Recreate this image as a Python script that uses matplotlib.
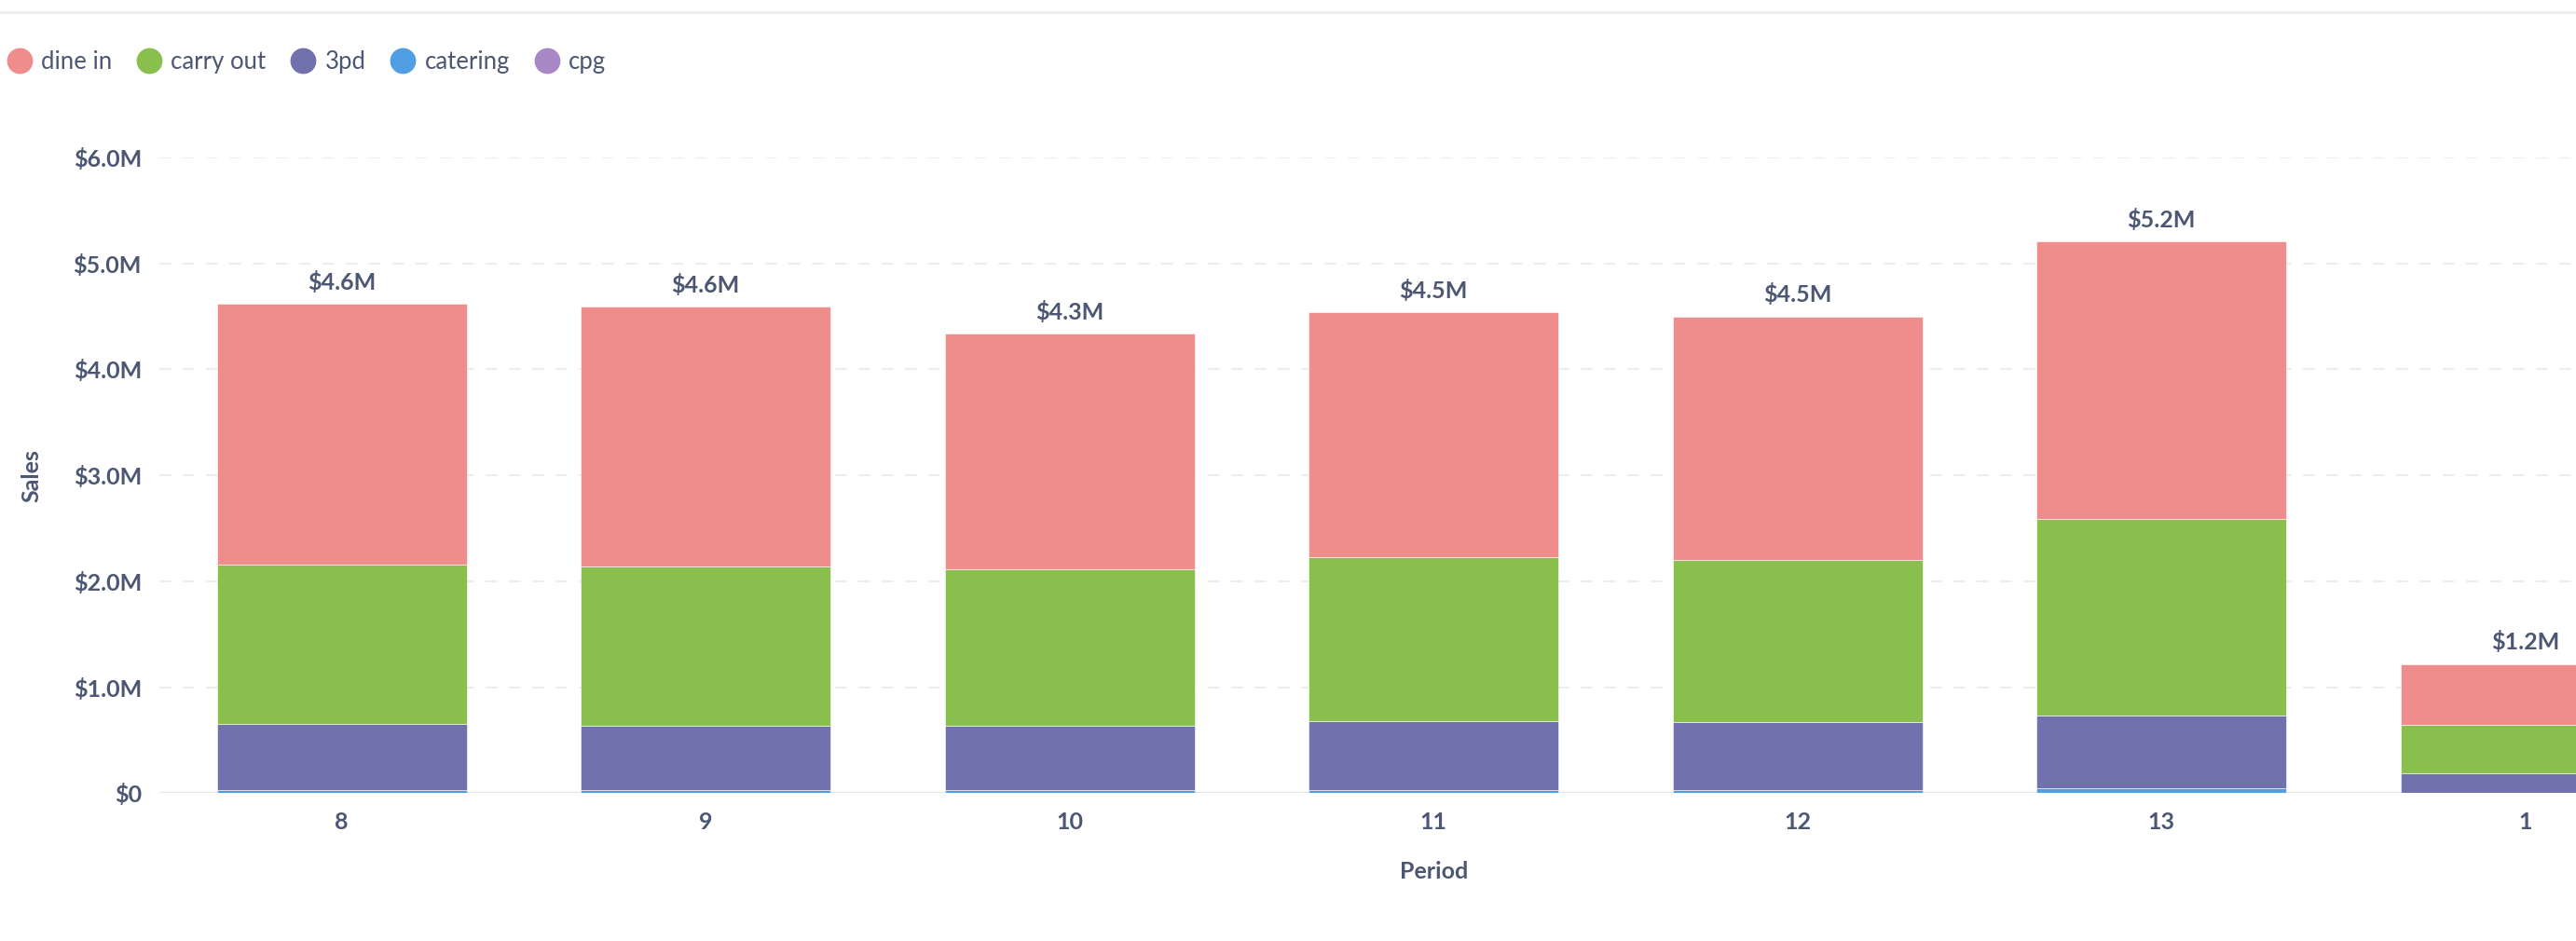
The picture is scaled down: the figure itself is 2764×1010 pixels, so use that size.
import matplotlib
matplotlib.use("Agg")
import matplotlib.pyplot as plt
from matplotlib.lines import Line2D
from matplotlib.ticker import FuncFormatter
import numpy as np

plt.rcParams['font.family'] = ['Lato', 'DejaVu Sans']

# data (values in $M)
periods = ['8', '9', '10', '11', '12', '13', '1']
series_names = ['dine in', 'carry out', '3pd', 'catering', 'cpg']
dine_in = [2.465, 2.45, 2.23, 2.31, 2.30, 2.62, 0.575]
carry_out = [1.505, 1.50, 1.47, 1.55, 1.53, 1.86, 0.46]
three_pd = [0.62, 0.61, 0.61, 0.65, 0.64, 0.68, 0.186]
catering = [0.03, 0.03, 0.03, 0.03, 0.03, 0.05, 0.0]
cpg = [0.0, 0.0, 0.0, 0.0, 0.0, 0.0, 0.0]
colors = ['#EF8C8C', '#88BF4D', '#7172AD', '#509EE3', '#A989C5']
text_color = '#4C5773'

fig = plt.figure(figsize=(27.64, 10.10), dpi=100)
ax = fig.add_axes([0.062, 0.157, 0.989, 0.6757])

x = np.arange(len(periods))
# stack from the bottom: cpg, catering, 3pd, carry out, dine in
stack = [(cpg, colors[4]), (catering, colors[3]), (three_pd, colors[2]),
         (carry_out, colors[1]), (dine_in, colors[0])]
bottom = np.zeros(len(periods))
for vals, c in stack:
    v = np.array(vals) * 1e6
    ax.bar(x, v, width=0.686, bottom=bottom, color=c, edgecolor='white',
           linewidth=0.4, zorder=3)
    bottom = bottom + v

# total labels
for xi, tot in zip(x, bottom):
    ax.annotate(f'${tot / 1e6:.1f}M', (xi, tot), xytext=(0, 8),
                textcoords='offset points', ha='center', va='bottom',
                fontsize=18, fontweight='bold', color=text_color)

ax.set_xlim(-0.5, len(periods) - 0.5)
ax.set_ylim(0, 6e6)
ax.set_yticks(np.arange(0, 7e6, 1e6))
ax.yaxis.set_major_formatter(FuncFormatter(
    lambda v, p: '$0' if v == 0 else f'${v / 1e6:.1f}M'))
ax.set_xticks(x)
ax.set_xticklabels(periods)
ax.tick_params(length=0, labelsize=18, labelcolor=text_color, pad=14)
for lab in ax.get_xticklabels() + ax.get_yticklabels():
    lab.set_fontweight('bold')

for s in ax.spines.values():
    s.set_visible(False)
ax.axhline(0, color='#E6E6E6', linewidth=2.5, zorder=2)
ax.yaxis.grid(True, color='#EDEDED', linestyle=(0, (6, 6)), linewidth=1.5, zorder=0)
ax.set_axisbelow(True)

ax.set_ylabel('Sales', fontsize=18, fontweight='bold', color=text_color, labelpad=24)
ax.set_xlabel('Period', fontsize=18, fontweight='bold', color=text_color, labelpad=22)

handles = [Line2D([], [], marker='o', linestyle='', markersize=19,
                  markerfacecolor=c, markeredgecolor=c) for c in colors]
fig.legend(handles, series_names, loc='center left', bbox_to_anchor=(0.003, 0.9337),
           ncol=5, frameon=False, fontsize=18.5, labelcolor=text_color,
           handlelength=1.0, handletextpad=0.4, columnspacing=1.05,
           borderpad=0, borderaxespad=0)

fig.add_artist(Line2D([0, 1], [0.987, 0.987], color='#EEEEEE', linewidth=2.5,
                      transform=fig.transFigure))

fig.savefig('out.png', dpi=100, facecolor='white')
